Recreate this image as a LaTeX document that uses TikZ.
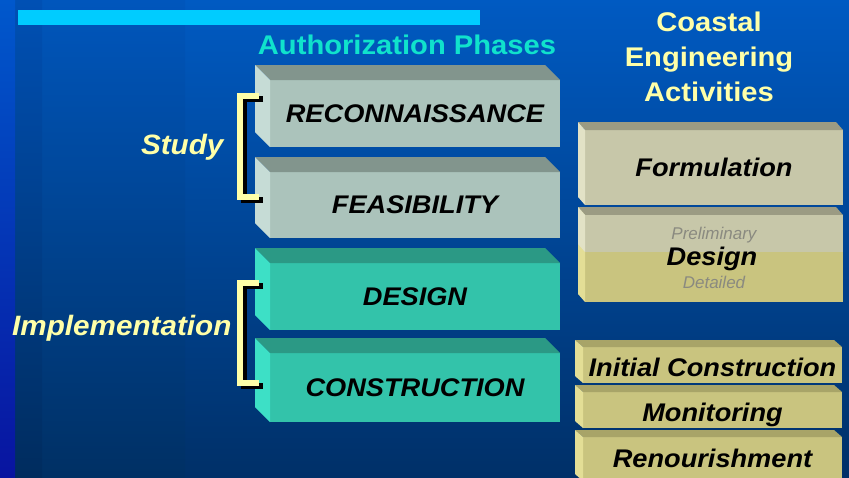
\documentclass[tikz,border=0pt]{standalone}
\usepackage{fontspec}
\setmainfont{Liberation Sans}
\newfontfamily\boxfont[FakeStretch=1.066]{Liberation Sans}
\newfontfamily\sidefont[FakeStretch=1.06]{Liberation Sans}
\newfontfamily\headfont[FakeStretch=1.08]{Liberation Sans}
\definecolor{bgtop}{HTML}{005AC2}
\definecolor{bgbot}{HTML}{003068}
\definecolor{bandtop}{HTML}{0050B4}
\definecolor{bandbot}{HTML}{002C5E}
\definecolor{midtop}{HTML}{0056BC}
\definecolor{midbot}{HTML}{003064}
\definecolor{striptop}{HTML}{0058CC}
\definecolor{stripbot}{HTML}{0814A0}
\definecolor{topbar}{HTML}{00CCFF}
\definecolor{authcol}{HTML}{10E2CC}
\definecolor{cream}{HTML}{FFFFA8}
\definecolor{recfront}{HTML}{ABC3BB}
\definecolor{rectop}{HTML}{82958D}
\definecolor{recside}{HTML}{C6DCD6}
\definecolor{desfront}{HTML}{33C3AA}
\definecolor{destop}{HTML}{2B9985}
\definecolor{desside}{HTML}{3DE0C6}
\definecolor{forfront}{HTML}{C7C7A9}
\definecolor{fortop}{HTML}{9B9B83}
\definecolor{forside}{HTML}{E2E2C6}
\definecolor{yelfront}{HTML}{C9C47F}
\definecolor{yeltop}{HTML}{A8A468}
\definecolor{yelside}{HTML}{E3DE96}
\definecolor{greytext}{HTML}{8A8A80}
\newcommand\boxfaces[5]{%
  \fill[#4] (#1.north west) -- ([shift={(#2,#3)}]#1.north west) -- ([shift={(#2,#3)}]#1.north east) -- (#1.north east) -- cycle;
  \fill[#5] (#1.north west) -- ([shift={(#2,#3)}]#1.north west) -- ([shift={(#2,#3)}]#1.south west) -- (#1.south west) -- cycle;}
\begin{document}
\begin{tikzpicture}[x=1pt,y=-1pt,
  front/.style={inner sep=0pt, outer sep=0pt, font=\boxfont\bfseries\itshape\fontsize{25.5}{28}\selectfont, text=black},
  phasebox/.style={front, minimum width=290pt},
  actbox/.style={front, minimum width=259pt},
  basetext/.style={front, anchor=base},
  bracketline/.style={line width=6pt, line cap=butt, line join=miter},
  sidelabel/.style={font=\sidefont\bfseries\itshape\fontsize{28}{30}\selectfont, text=cream, anchor=east},
  headcream/.style={font=\headfont\bfseries\fontsize{27}{35}\selectfont, text=cream, align=center},
  smallgrey/.style={font=\itshape\fontsize{17}{19}\selectfont, text=greytext}]
\useasboundingbox (0,0) rectangle (849,477);
% background
\shade[top color=bgtop, bottom color=bgbot] (0,0) rectangle (849,477);
\shade[top color=midtop, bottom color=midbot] (42,0) rectangle (185,477);
\shade[top color=bandtop, bottom color=bandbot] (15,0) rectangle (42,477);
\shade[top color=striptop, bottom color=stripbot] (0,0) rectangle (15,477);
\fill[topbar] (18,10) rectangle (480,25);
% headings
\node[font=\headfont\bfseries\fontsize{27}{30}\selectfont, text=authcol] (auth) at (407,45) {Authorization Phases};
\node[headcream] (coastal) at (709,57) {Coastal\\Engineering\\Activities};
% phase boxes
\node[phasebox, fill=recfront, minimum height=67pt] (rec) at (415,113.5) {RECONNAISSANCE};
\boxfaces{rec}{-15}{-15}{rectop}{recside}
\node[phasebox, fill=recfront, minimum height=66pt] (fea) at (415,205) {FEASIBILITY};
\boxfaces{fea}{-15}{-15}{rectop}{recside}
\node[phasebox, fill=desfront, minimum height=67pt] (des) at (415,296.5) {DESIGN};
\boxfaces{des}{-15}{-15}{destop}{desside}
\node[phasebox, fill=desfront, minimum height=69pt] (con) at (415,387.5) {CONSTRUCTION};
\boxfaces{con}{-15}{-15}{destop}{desside}
% brackets
\coordinate (sa) at (259,96);
\coordinate (sb) at (240,96);
\coordinate (sc) at (240,197);
\coordinate (sd) at (259,197);
\draw[bracketline, black] ([shift={(4,3)}]sa) -- ([shift={(4,3)}]sb) -- ([shift={(4,3)}]sc) -- ([shift={(4,3)}]sd);
\draw[bracketline, cream] (sa) -- (sb) -- (sc) -- (sd);
\coordinate (ia) at (259,283);
\coordinate (ib) at (240,283);
\coordinate (ic) at (240,383);
\coordinate (id) at (259,383);
\draw[bracketline, black] ([shift={(4,3)}]ia) -- ([shift={(4,3)}]ib) -- ([shift={(4,3)}]ic) -- ([shift={(4,3)}]id);
\draw[bracketline, cream] (ia) -- (ib) -- (ic) -- (id);
\node[sidelabel] (study) at (227,147) {Study};
\node[sidelabel] (impl) at (235,328) {Implementation};
% activity boxes
\node[actbox, minimum width=258pt, minimum height=75pt, fill=forfront] (form) at (714,167.5) {Formulation};
\boxfaces{form}{-7}{-8}{fortop}{forside}
\node[actbox, minimum width=258pt, minimum height=87pt, fill=yelfront] (dsg) at (714,258.5) {};
\boxfaces{dsg}{-7}{-8}{fortop}{yelside}
\fill[forfront] (dsg.north west) rectangle ([shift={(0,37)}]dsg.north east);
\fill[forside] (dsg.north west) -- ([shift={(-7,-8)}]dsg.north west) -- ([shift={(-7,29)}]dsg.north west) -- ([shift={(0,37)}]dsg.north west) -- cycle;
\node[smallgrey] (pre) at (714,235) {Preliminary};
\node[front] (dsgt) at (712,258.5) {Design};
\node[smallgrey] (det) at (714,282) {Detailed};
\node[actbox, minimum height=36pt, fill=yelfront] (ini) at (712.5,365) {};
\boxfaces{ini}{-8}{-7}{yeltop}{yelside}
\node[basetext] (init) at (712.5,376.5) {Initial Construction};
\node[actbox, minimum height=36pt, fill=yelfront] (mon) at (712.5,410) {};
\boxfaces{mon}{-8}{-7}{yeltop}{yelside}
\node[basetext] (mont) at (712.5,421.5) {Monitoring};
\node[actbox, minimum height=44pt, fill=yelfront] (ren) at (712.5,459) {};
\boxfaces{ren}{-8}{-7}{yeltop}{yelside}
\node[basetext] (rent) at (712.5,467.5) {Renourishment};
\end{tikzpicture}
\end{document}
